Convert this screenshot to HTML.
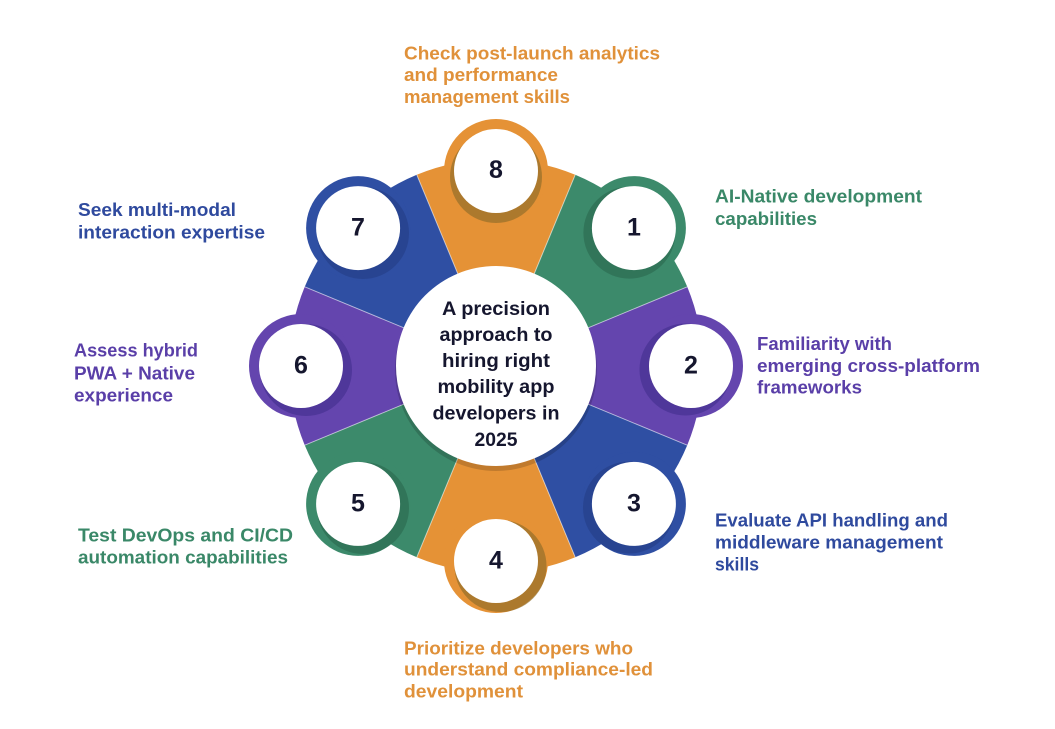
<!DOCTYPE html>
<html>
<head>
<meta charset="utf-8">
<style>
  html, body { margin: 0; padding: 0; background: #ffffff; }
  body { width: 1055px; height: 729px; overflow: hidden; }
  svg { display: block; }
  text { font-family: "Liberation Sans", "DejaVu Sans", sans-serif; font-weight: bold; }
</style>
</head>
<body>
<svg width="1055" height="729" viewBox="0 0 1055 729" xmlns="http://www.w3.org/2000/svg">
  <rect width="1055" height="729" fill="#ffffff"/>

  <!-- Wedges -->
  <path d="M496,366 L416.79,174.76 A207,207 0 0 1 575.21,174.76 Z" fill="#E59236"/>
  <path d="M496,366 L575.21,174.76 A207,207 0 0 1 687.24,286.79 Z" fill="#3C8A6B"/>
  <path d="M496,366 L687.24,286.79 A207,207 0 0 1 687.24,445.21 Z" fill="#6445AE"/>
  <path d="M496,366 L687.24,445.21 A207,207 0 0 1 575.21,557.24 Z" fill="#2F4FA3"/>
  <path d="M496,366 L575.21,557.24 A207,207 0 0 1 416.79,557.24 Z" fill="#E59236"/>
  <path d="M496,366 L416.79,557.24 A207,207 0 0 1 304.76,445.21 Z" fill="#3C8A6B"/>
  <path d="M496,366 L304.76,445.21 A207,207 0 0 1 304.76,286.79 Z" fill="#6445AE"/>
  <path d="M496,366 L304.76,286.79 A207,207 0 0 1 416.79,174.76 Z" fill="#2F4FA3"/>

  <!-- Divider lines -->
  <g stroke="#ffffff" stroke-opacity="0.55" stroke-width="1">
    <line x1="496" y1="366" x2="416.79" y2="174.76"/>
    <line x1="496" y1="366" x2="575.21" y2="174.76"/>
    <line x1="496" y1="366" x2="687.24" y2="286.79"/>
    <line x1="496" y1="366" x2="687.24" y2="445.21"/>
    <line x1="496" y1="366" x2="575.21" y2="557.24"/>
    <line x1="496" y1="366" x2="416.79" y2="557.24"/>
    <line x1="496" y1="366" x2="304.76" y2="445.21"/>
    <line x1="496" y1="366" x2="304.76" y2="286.79"/>
  </g>

  <!-- Center circle -->
  <circle cx="496" cy="370" r="101" fill="#000000" fill-opacity="0.16"/>
  <circle cx="496" cy="366" r="100" fill="#ffffff"/>

  <!-- Number circles -->
  <!-- 8 -->
  <circle cx="496" cy="171" r="52" fill="#E59236"/>
  <circle cx="496" cy="177" r="46" fill="#8E6C2A" fill-opacity="0.65"/>
  <circle cx="496" cy="171" r="42" fill="#ffffff"/>
  <!-- 1 -->
  <circle cx="633.9" cy="228.1" r="52" fill="#3C8A6B"/>
  <circle cx="629.4" cy="232.6" r="46" fill="#2B6A50" fill-opacity="0.65"/>
  <circle cx="633.9" cy="228.1" r="42" fill="#ffffff"/>
  <!-- 2 -->
  <circle cx="691" cy="366" r="52" fill="#6445AE"/>
  <circle cx="685.5" cy="369.5" r="46" fill="#44308F" fill-opacity="0.65"/>
  <circle cx="691" cy="366" r="42" fill="#ffffff"/>
  <!-- 3 -->
  <circle cx="633.9" cy="503.9" r="52" fill="#2F4FA3"/>
  <circle cx="629" cy="507.5" r="46" fill="#253F87" fill-opacity="0.65"/>
  <circle cx="633.9" cy="503.9" r="42" fill="#ffffff"/>
  <!-- 4 -->
  <circle cx="496" cy="561" r="52" fill="#E59236"/>
  <circle cx="500.5" cy="566" r="46" fill="#8E6C2A" fill-opacity="0.65"/>
  <circle cx="496" cy="561" r="42" fill="#ffffff"/>
  <!-- 5 -->
  <circle cx="358.1" cy="503.9" r="52" fill="#3C8A6B"/>
  <circle cx="363" cy="508" r="46" fill="#2B6A50" fill-opacity="0.65"/>
  <circle cx="358.1" cy="503.9" r="42" fill="#ffffff"/>
  <!-- 6 -->
  <circle cx="301" cy="366" r="52" fill="#6445AE"/>
  <circle cx="306" cy="370" r="46" fill="#44308F" fill-opacity="0.65"/>
  <circle cx="301" cy="366" r="42" fill="#ffffff"/>
  <!-- 7 -->
  <circle cx="358.1" cy="228.1" r="52" fill="#2F4FA3"/>
  <circle cx="363" cy="233" r="46" fill="#253F87" fill-opacity="0.65"/>
  <circle cx="358.1" cy="228.1" r="42" fill="#ffffff"/>

  <!-- Numbers -->
  <g fill="#15162E" font-size="25" text-anchor="middle">
    <text x="496" y="178">8</text>
    <text x="634" y="235.5">1</text>
    <text x="691" y="373.5">2</text>
    <text x="634" y="511.5">3</text>
    <text x="496" y="568.5">4</text>
    <text x="358" y="511.5">5</text>
    <text x="301" y="373.5">6</text>
    <text x="358" y="235.5">7</text>
  </g>

  <!-- Center text -->
  <g fill="#15162E" font-size="19.5" text-anchor="middle">
    <text x="496" y="315" textLength="108" lengthAdjust="spacingAndGlyphs">A precision</text>
    <text x="496" y="341" textLength="113" lengthAdjust="spacingAndGlyphs">approach to</text>
    <text x="496" y="367" textLength="108" lengthAdjust="spacingAndGlyphs">hiring right</text>
    <text x="496" y="393" textLength="117" lengthAdjust="spacingAndGlyphs">mobility app</text>
    <text x="496" y="419.5" textLength="127" lengthAdjust="spacingAndGlyphs">developers in</text>
    <text x="496" y="446" textLength="43" lengthAdjust="spacingAndGlyphs">2025</text>
  </g>

  <!-- Labels -->
  <g font-size="18">
    <g fill="#E0913A">
      <text x="404" y="59.5" textLength="256" lengthAdjust="spacingAndGlyphs">Check post-launch analytics</text>
      <text x="404" y="81" textLength="154" lengthAdjust="spacingAndGlyphs">and performance</text>
      <text x="404" y="103" textLength="166" lengthAdjust="spacingAndGlyphs">management skills</text>
    </g>
    <g fill="#3A8868">
      <text x="715" y="202.7" textLength="207" lengthAdjust="spacingAndGlyphs">AI-Native development</text>
      <text x="715" y="225" textLength="102" lengthAdjust="spacingAndGlyphs">capabilities</text>
    </g>
    <g fill="#5A3FA8">
      <text x="757" y="350" textLength="135" lengthAdjust="spacingAndGlyphs">Familiarity with</text>
      <text x="757" y="372" textLength="223" lengthAdjust="spacingAndGlyphs">emerging cross-platform</text>
      <text x="757" y="393.5" textLength="105" lengthAdjust="spacingAndGlyphs">frameworks</text>
    </g>
    <g fill="#2F4A9E">
      <text x="715" y="526.7" textLength="233" lengthAdjust="spacingAndGlyphs">Evaluate API handling and</text>
      <text x="715" y="548.3" textLength="228" lengthAdjust="spacingAndGlyphs">middleware management</text>
      <text x="715" y="570.5" textLength="44" lengthAdjust="spacingAndGlyphs">skills</text>
    </g>
    <g fill="#E0913A">
      <text x="404" y="654.3" textLength="229" lengthAdjust="spacingAndGlyphs">Prioritize developers who</text>
      <text x="404" y="675.7" textLength="249" lengthAdjust="spacingAndGlyphs">understand compliance-led</text>
      <text x="404" y="697.7" textLength="119" lengthAdjust="spacingAndGlyphs">development</text>
    </g>
    <g fill="#3A8868">
      <text x="78" y="541.7" textLength="215" lengthAdjust="spacingAndGlyphs">Test DevOps and CI/CD</text>
      <text x="78" y="563.3" textLength="210" lengthAdjust="spacingAndGlyphs">automation capabilities</text>
    </g>
    <g fill="#5A3FA8">
      <text x="74" y="356.7" textLength="124" lengthAdjust="spacingAndGlyphs">Assess hybrid</text>
      <text x="74" y="379.3" textLength="121" lengthAdjust="spacingAndGlyphs">PWA + Native</text>
      <text x="74" y="401.7" textLength="99" lengthAdjust="spacingAndGlyphs">experience</text>
    </g>
    <g fill="#2F4A9E">
      <text x="78" y="216" textLength="158" lengthAdjust="spacingAndGlyphs">Seek multi-modal</text>
      <text x="78" y="238.3" textLength="187" lengthAdjust="spacingAndGlyphs">interaction expertise</text>
    </g>
  </g>
</svg>
</body>
</html>
